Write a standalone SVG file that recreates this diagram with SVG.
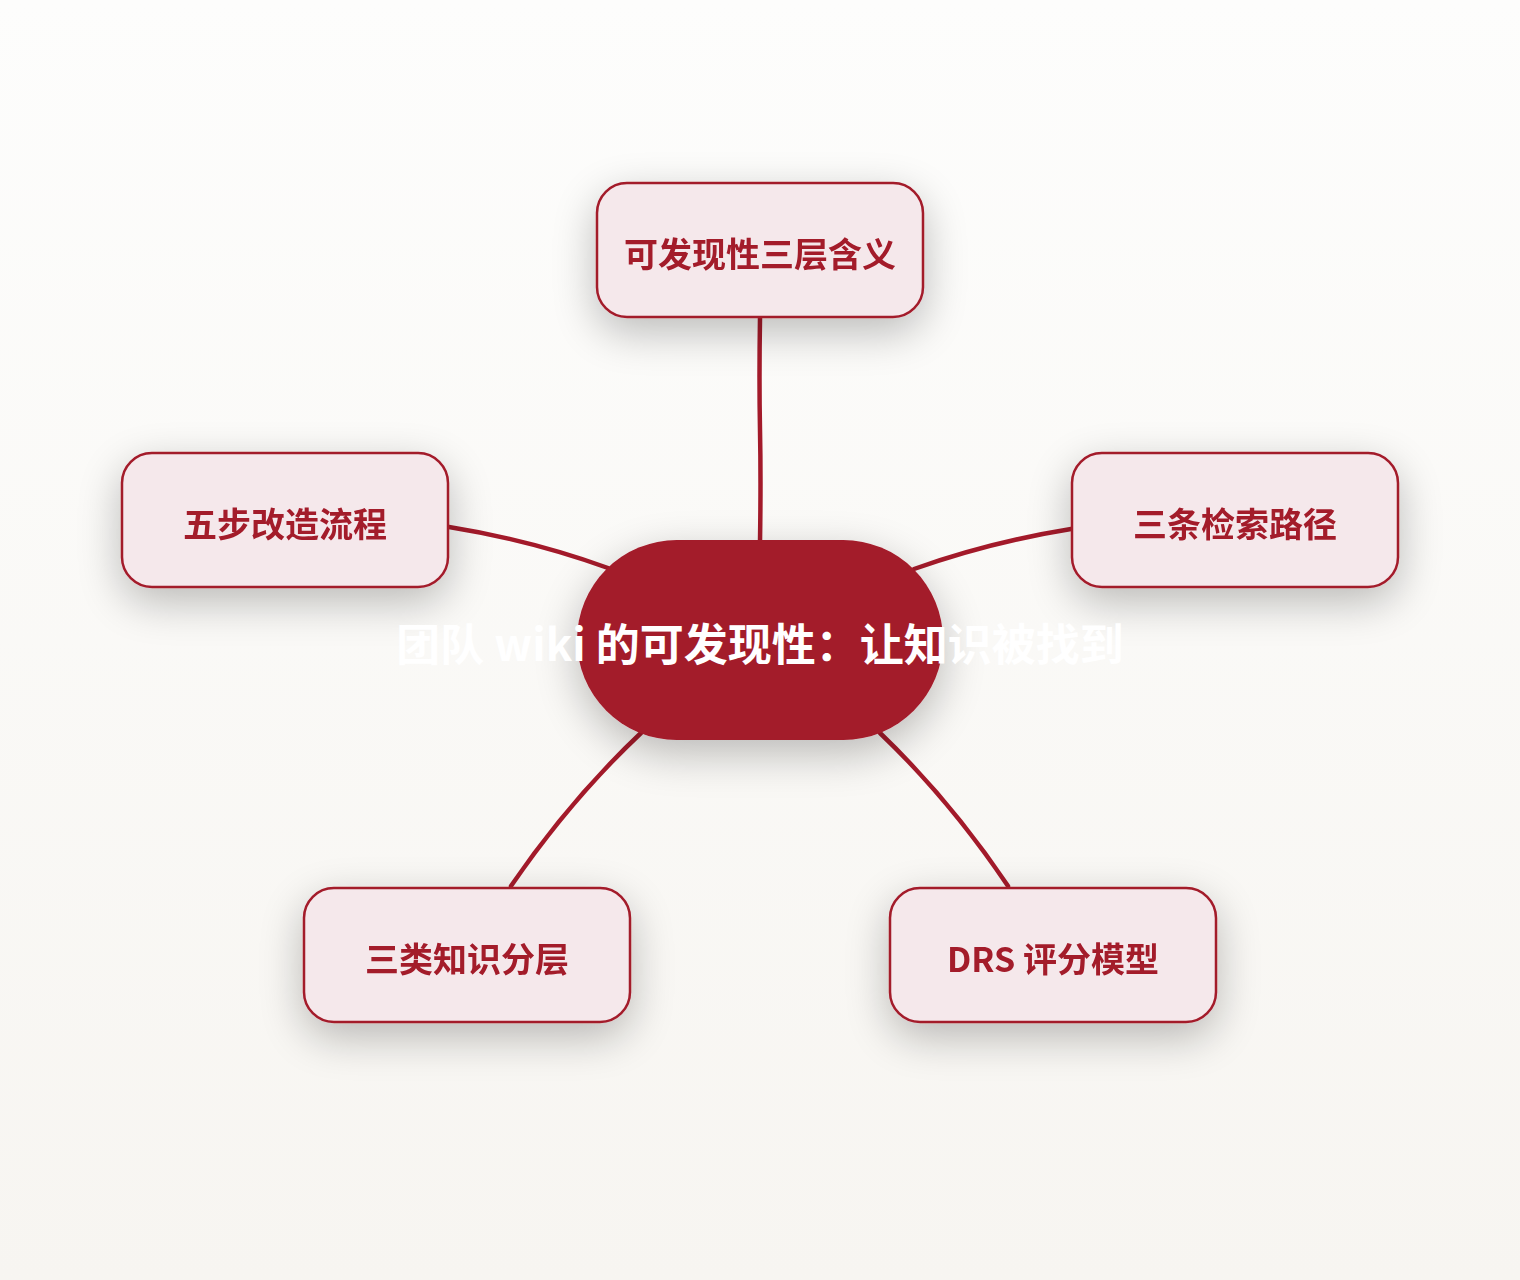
<svg xmlns="http://www.w3.org/2000/svg" width="1520" height="1280" viewBox="0 0 1520 1280">
<defs>
<linearGradient id="bg" x1="0" y1="0" x2="0" y2="1">
<stop offset="0" stop-color="#FDFDFC"/>
<stop offset="1" stop-color="#F7F5F1"/>
</linearGradient>
<filter id="sh" x="-40%" y="-60%" width="180%" height="230%">
<feGaussianBlur in="SourceAlpha" stdDeviation="22"/>
<feOffset dx="0" dy="14" result="b"/>
<feComponentTransfer><feFuncA type="linear" slope="0.26"/></feComponentTransfer>
<feMerge><feMergeNode/><feMergeNode in="SourceGraphic"/></feMerge>
</filter>
<style>
.box{fill:#F5E8EB;stroke:#A31A2A;stroke-width:2.5}
.lbl{font-family:"Noto Sans CJK SC","Liberation Sans",sans-serif;font-weight:700;font-size:34px;fill:#A31A2A;text-anchor:middle;dominant-baseline:central}
.ctr{font-family:"Noto Sans CJK SC","Liberation Sans",sans-serif;font-weight:700;font-size:44px;fill:#FFFFFF;text-anchor:middle;dominant-baseline:central}
.edge{fill:none;stroke:#A31A2A;stroke-width:4.5;stroke-linecap:round}
</style>
</defs>
<rect width="1520" height="1280" fill="url(#bg)"/>
<g id="connectors">
<path class="edge" d="M760 318 Q759 380 760 430 T760 542"/>
<path class="edge" d="M449 527 Q530 540 608 568"/>
<path class="edge" d="M1071 529 Q990 542 914 569"/>
<path class="edge" d="M511 886 Q570 800 641 733"/>
<path class="edge" d="M1008 886 Q950 800 880 733"/>
</g>
<g id="node-top" filter="url(#sh)">
<rect class="box" x="597" y="183" width="326" height="134" rx="30"/>
<text class="lbl" x="760" y="252">可发现性三层含义</text>
</g>
<g id="node-left" filter="url(#sh)">
<rect class="box" x="122" y="453" width="326" height="134" rx="30"/>
<text class="lbl" x="285" y="522">五步改造流程</text>
</g>
<g id="node-right" filter="url(#sh)">
<rect class="box" x="1072" y="453" width="326" height="134" rx="30"/>
<text class="lbl" x="1235" y="522">三条检索路径</text>
</g>
<g id="node-bl" filter="url(#sh)">
<rect class="box" x="304" y="888" width="326" height="134" rx="30"/>
<text class="lbl" x="467" y="957">三类知识分层</text>
</g>
<g id="node-br" filter="url(#sh)">
<rect class="box" x="890" y="888" width="326" height="134" rx="30"/>
<text class="lbl" x="1053" y="957">DRS 评分模型</text>
</g>
<g id="node-center">
<rect x="577" y="540" width="366" height="200" rx="100" fill="#A31A2A" filter="url(#sh)"/>
<text class="ctr" x="760" y="642">团队 wiki 的可发现性：让知识被找到</text>
</g>
</svg>
